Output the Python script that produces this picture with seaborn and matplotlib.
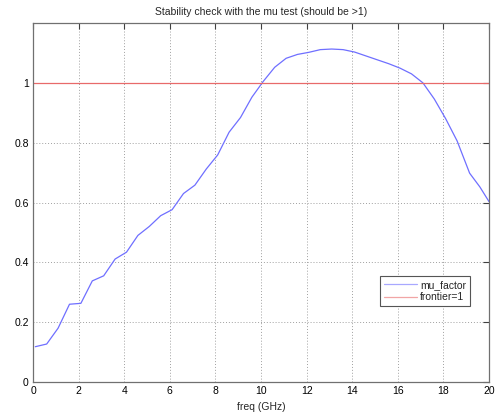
import matplotlib
matplotlib.use("Agg")
import matplotlib.pyplot as plt
import seaborn as sns
import pandas as pd
from matplotlib.ticker import FuncFormatter

# Stability factor (mu test) versus frequency
freq_ghz = [0.1, 0.6, 1.1, 1.6, 2.1, 2.6, 3.1, 3.6, 4.1, 4.6, 5.1, 5.6, 6.1, 6.6,
            7.1, 7.6, 8.1, 8.6, 9.1, 9.6, 10.1, 10.6, 11.1, 11.6, 12.1, 12.6,
            13.1, 13.6, 14.1, 14.6, 15.1, 15.6, 16.1, 16.6, 17.1, 17.6, 18.1,
            18.6, 19.15, 19.6, 20.0]
mu_factor = [0.118, 0.127, 0.180, 0.260, 0.263, 0.338, 0.355, 0.411, 0.434, 0.490,
             0.520, 0.556, 0.576, 0.630, 0.658, 0.712, 0.759, 0.835, 0.884, 0.952,
             1.005, 1.052, 1.082, 1.095, 1.102, 1.111, 1.113, 1.111, 1.103, 1.090,
             1.077, 1.064, 1.049, 1.030, 1.000, 0.946, 0.880, 0.806, 0.698, 0.652,
             0.603]
frontier_freq = [0.0, 20.0]
frontier_val = [1.0, 1.0]

x_ticks = [0, 2, 4, 6, 8, 10, 12, 14, 16, 18, 20]
y_ticks = [0, 0.2, 0.4, 0.6, 0.8, 1.0]

sns.set_style("white")
plt.rcParams["font.family"] = ["Liberation Sans", "DejaVu Sans"]
plt.rcParams["font.size"] = 7.5

df_mu = pd.DataFrame({"freq": freq_ghz, "mu": mu_factor})
df_front = pd.DataFrame({"freq": frontier_freq, "val": frontier_val})

fig = plt.figure(figsize=(4.95, 4.16), dpi=100)
ax = fig.add_axes([0.0667, 0.0817, 0.9212, 0.863])

sns.lineplot(data=df_mu, x="freq", y="mu", ax=ax, color="#6f6fff",
             linewidth=0.9, label="mu_factor", estimator=None, sort=False)
sns.lineplot(data=df_front, x="freq", y="val", ax=ax, color="#e86a6a",
             linewidth=0.9, label="frontier=1", estimator=None, sort=False)

ax.set_xlim(0, 20)
ax.set_ylim(0, 1.2)
ax.set_xticks(x_ticks)
ax.set_yticks(y_ticks)
ax.yaxis.set_major_formatter(FuncFormatter(lambda v, p: f"{v:g}"))
ax.grid(True, linestyle=(0, (1, 2)), color="#a0a0a0", linewidth=0.7)
ax.set_axisbelow(True)
ax.tick_params(direction="in", length=4, width=0.8, colors="#404040",
               labelcolor="black", top=True, right=True, labelsize=7.5, pad=3)
for s in ax.spines.values():
    s.set_color("#707070")
    s.set_linewidth(0.9)

ax.set_title("Stability check with the mu test (should be >1)", fontsize=7.5, pad=6)
ax.set_xlabel("freq (GHz)", fontsize=7.5, labelpad=4)
ax.set_ylabel("")

leg = ax.legend(loc="upper left", bbox_to_anchor=(0.762, 0.295), fontsize=7.5,
                frameon=True, fancybox=False, framealpha=1, edgecolor="#555555",
                handlelength=3.2, handletextpad=0.25, borderpad=0.35,
                labelspacing=0.25, borderaxespad=0)
leg.get_frame().set_linewidth(0.8)
for h in leg.get_lines():
    h.set_alpha(0.6)

fig.savefig("out.png", dpi=100)
